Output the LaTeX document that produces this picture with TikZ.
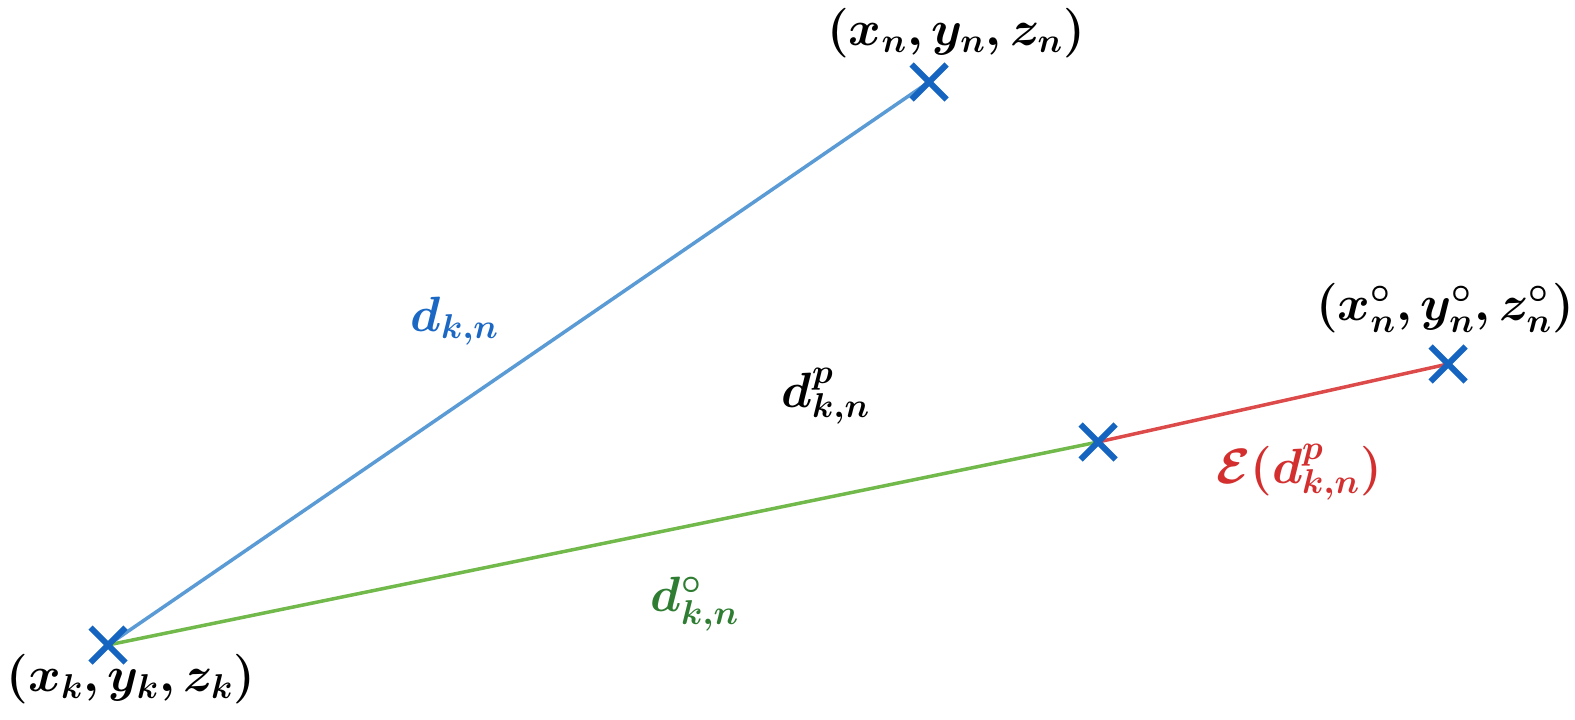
\documentclass[tikz,border=0pt]{standalone}
\usepackage{bm}
\usetikzlibrary{shapes.misc}
\definecolor{crossblue}{HTML}{1565C0}
\definecolor{lineblue}{HTML}{5B9BD5}
\definecolor{linegreen}{HTML}{72B94B}
\definecolor{linered}{HTML}{DC4A4A}
\definecolor{lblblue}{HTML}{1A67C4}
\definecolor{lblgreen}{HTML}{2E7D32}
\definecolor{lblred}{HTML}{D32F2F}
\tikzset{
  xmark/.style={cross out, draw=crossblue, line width=3bp, minimum size=14.5bp, inner sep=0pt},
  seg/.style={line width=1.75bp},
  lbl/.style={font=\fontsize{25}{29}\selectfont, inner sep=0pt},
}
\begin{document}
\begin{tikzpicture}[x=0.5bp,y=-0.5bp]
\useasboundingbox (0,0) rectangle (1575,720);
\coordinate (K) at (108,645);
\coordinate (N) at (929,82);
\coordinate (P) at (1098,442);
\coordinate (O) at (1448,364);
\draw[seg, lineblue] (K) -- (N);
\draw[seg, linegreen] (K) -- (P);
\draw[seg, linered] (P) -- (O);
\node[xmark] (mK) at (K) {};
\node[xmark] (mN) at (N) {};
\node[xmark] (mP) at (P) {};
\node[xmark] (mO) at (O) {};
\node[lbl] (tK) at (131,679) {$\bm{(x_k, y_k, z_k)}$};
\node[lbl] (tN) at (956,33) {$\bm{(x_n, y_n, z_n)}$};
\node[lbl] (tO) at (1445,308) {$\bm{(x^\circ_n, y^\circ_n, z^\circ_n)}$};
\node[lbl, text=lblblue] (dkn) at (455,321) {$\bm{d_{k,n}}$};
\node[lbl] (dp) at (826,396) {$\bm{d^p_{k,n}}$};
\node[lbl, text=lblred] (ep) at (1299,472) {$\bm{\mathcal{E}(d^p_{k,n})}$};
\node[lbl, text=lblgreen] (dc) at (695,604) {$\bm{d^\circ_{k,n}}$};
\end{tikzpicture}
\end{document}
